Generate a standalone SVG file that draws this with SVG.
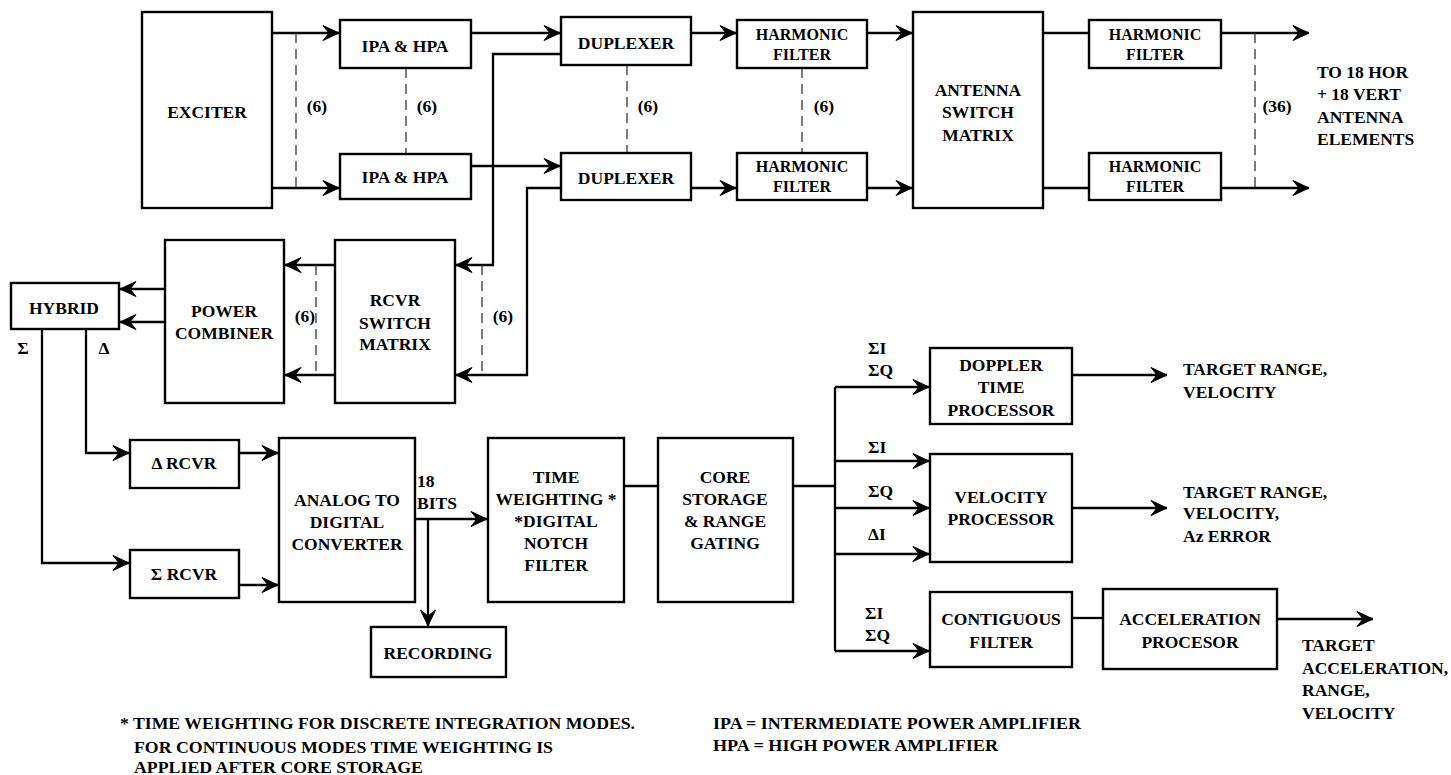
<svg xmlns="http://www.w3.org/2000/svg" width="1451" height="775" viewBox="0 0 1451 775">
<style>
  .box { fill: #fff; stroke: #000; stroke-width: 2.4; }
  .ln { fill: none; stroke: #000; stroke-width: 2.3; }
  .arr { marker-end: url(#ah); }
  .dash { fill: none; stroke: #444; stroke-width: 1.4; stroke-dasharray: 10 6; }
  text { font-family: "Liberation Serif", "Times New Roman", serif; font-weight: bold; font-size: 17.5px; fill: #000; }
  .c { text-anchor: middle; }
  .sm { font-size: 16px; }
  .note { font-size: 17.5px; }
</style>
<defs>
  <marker id="ah" viewBox="-18 -9 20 18" refX="0" refY="0" markerWidth="20" markerHeight="18" markerUnits="userSpaceOnUse" orient="auto">
    <path d="M0,0 L-16,-7.5 L-10,0 L-16,7.5 Z" fill="#000" stroke="#000" stroke-width="1" stroke-linejoin="miter"/>
  </marker>
</defs>
<rect width="1451" height="775" fill="#fff"/>

<g id="connectors">
  <path class="ln arr" d="M272,33 H339"/>
  <path class="ln arr" d="M272,188 H339"/>
  <path class="dash" d="M296,33 V188"/>
  <path class="dash" d="M406,68 V154"/>
  <path class="ln arr" d="M471,33 H560"/>
  <path class="ln arr" d="M471,166 H560"/>
  <path class="ln arr" d="M561,54 H493 V265 H456"/>
  <path class="ln arr" d="M561,188 H527 V375 H456"/>
  <path class="dash" d="M482,265 V375"/>
  <path class="dash" d="M627,65 V153"/>
  <path class="ln arr" d="M691,33 H736"/>
  <path class="ln arr" d="M691,188 H736"/>
  <path class="dash" d="M802,68 V153"/>
  <path class="ln arr" d="M867,33 H912"/>
  <path class="ln arr" d="M867,188 H912"/>
  <path class="ln" d="M1043,33 H1089"/>
  <path class="ln" d="M1043,188 H1089"/>
  <path class="ln arr" d="M1221,33 H1309"/>
  <path class="ln arr" d="M1221,188 H1309"/>
  <path class="dash" d="M1255,33 V188"/>
  <path class="ln arr" d="M335,265 H285"/>
  <path class="ln arr" d="M335,375 H285"/>
  <path class="dash" d="M316,265 V375"/>
  <path class="ln arr" d="M165,289 H120"/>
  <path class="ln arr" d="M165,322 H120"/>
  <path class="ln arr" d="M42,329 V563 H129"/>
  <path class="ln arr" d="M86,329 V453 H129"/>
  <path class="ln arr" d="M239,453 H278"/>
  <path class="ln arr" d="M239,585 H278"/>
  <path class="ln arr" d="M415,519 H487"/>
  <path class="ln arr" d="M428,519 V626"/>
  <path class="ln" d="M624,486 H658"/>
  <path class="ln" d="M793,486 H835"/>
  <path class="ln" d="M835,387 V651"/>
  <path class="ln arr" d="M835,387 H929"/>
  <path class="ln arr" d="M835,461 H929"/>
  <path class="ln arr" d="M835,508 H929"/>
  <path class="ln arr" d="M835,554 H929"/>
  <path class="ln arr" d="M835,651 H929"/>
  <path class="ln arr" d="M1072,375 H1167"/>
  <path class="ln arr" d="M1072,508 H1167"/>
  <path class="ln" d="M1072,618 H1103"/>
  <path class="ln arr" d="M1277,619 H1373"/>
</g>

<g id="labels">
  <text x="317" y="112" class="c">(6)</text>
  <text x="427" y="112" class="c">(6)</text>
  <text x="648" y="112" class="c">(6)</text>
  <text x="824" y="112" class="c">(6)</text>
  <text x="1277" y="112" class="c">(36)</text>
  <text x="1317" y="78">TO 18 HOR</text>
  <text x="1317" y="100">+ 18 VERT</text>
  <text x="1317" y="123">ANTENNA</text>
  <text x="1317" y="145">ELEMENTS</text>
  <text x="305" y="322" class="c">(6)</text>
  <text x="503" y="322" class="c">(6)</text>
  <text x="23" y="354" class="c">Σ</text>
  <text x="104" y="354" class="c">Δ</text>
  <text x="417" y="487">18</text>
  <text x="417" y="509">BITS</text>
  <text x="868" y="354">ΣI</text>
  <text x="868" y="376">ΣQ</text>
  <text x="868" y="453">ΣI</text>
  <text x="868" y="497">ΣQ</text>
  <text x="868" y="540">ΔI</text>
  <text x="865" y="619">ΣI</text>
  <text x="865" y="641">ΣQ</text>
  <text x="1183" y="375">TARGET RANGE,</text>
  <text x="1183" y="398">VELOCITY</text>
  <text x="1183" y="498">TARGET RANGE,</text>
  <text x="1183" y="519">VELOCITY,</text>
  <text x="1183" y="542">Az ERROR</text>
  <text x="1302" y="651">TARGET</text>
  <text x="1302" y="674">ACCELERATION,</text>
  <text x="1302" y="696">RANGE,</text>
  <text x="1302" y="719">VELOCITY</text>
  <text x="120" y="729" class="note" textLength="515" lengthAdjust="spacingAndGlyphs">* TIME WEIGHTING FOR DISCRETE INTEGRATION MODES.</text>
  <text x="134" y="753" class="note" textLength="419" lengthAdjust="spacingAndGlyphs">FOR CONTINUOUS MODES TIME WEIGHTING IS</text>
  <text x="134" y="773" class="note" textLength="289" lengthAdjust="spacingAndGlyphs">APPLIED AFTER CORE STORAGE</text>
  <text x="713" y="729" class="note" textLength="368" lengthAdjust="spacingAndGlyphs">IPA = INTERMEDIATE POWER AMPLIFIER</text>
  <text x="713" y="751" class="note" textLength="285" lengthAdjust="spacingAndGlyphs">HPA = HIGH POWER AMPLIFIER</text>
</g>

<g id="exciter"><rect class="box" x="142" y="12" width="130" height="196"/><text x="207" y="118" class="c">EXCITER</text></g>
<g id="ipa1"><rect class="box" x="340" y="20" width="131" height="48"/><text x="405" y="52" class="c">IPA &amp; HPA</text></g>
<g id="ipa2"><rect class="box" x="340" y="154" width="131" height="45"/><text x="405" y="183" class="c">IPA &amp; HPA</text></g>
<g id="dup1"><rect class="box" x="561" y="17" width="130" height="48"/><text x="626" y="49" class="c">DUPLEXER</text></g>
<g id="dup2"><rect class="box" x="561" y="153" width="130" height="47"/><text x="626" y="184" class="c">DUPLEXER</text></g>
<g id="hf1"><rect class="box" x="737" y="20" width="130" height="48"/><text x="802" y="40" class="c sm">HARMONIC</text><text x="802" y="60" class="c sm">FILTER</text></g>
<g id="hf2"><rect class="box" x="737" y="153" width="130" height="47"/><text x="802" y="172" class="c sm">HARMONIC</text><text x="802" y="192" class="c sm">FILTER</text></g>
<g id="antenna"><rect class="box" x="913" y="12" width="130" height="196"/><text x="978" y="96" class="c">ANTENNA</text><text x="978" y="118" class="c">SWITCH</text><text x="978" y="141" class="c">MATRIX</text></g>
<g id="hf3"><rect class="box" x="1089" y="20" width="132" height="48"/><text x="1155" y="40" class="c sm">HARMONIC</text><text x="1155" y="60" class="c sm">FILTER</text></g>
<g id="hf4"><rect class="box" x="1089" y="153" width="132" height="47"/><text x="1155" y="172" class="c sm">HARMONIC</text><text x="1155" y="192" class="c sm">FILTER</text></g>
<g id="hybrid"><rect class="box" x="11" y="283" width="108" height="46"/><text x="64" y="314" class="c">HYBRID</text></g>
<g id="combiner"><rect class="box" x="165" y="240" width="119" height="163"/><text x="224" y="317" class="c">POWER</text><text x="224" y="339" class="c">COMBINER</text></g>
<g id="rcvrswitch"><rect class="box" x="335" y="240" width="120" height="163"/><text x="395" y="306" class="c">RCVR</text><text x="395" y="329" class="c">SWITCH</text><text x="395" y="350" class="c">MATRIX</text></g>
<g id="drcvr"><rect class="box" x="130" y="440" width="109" height="48"/><text x="184" y="469" class="c">Δ RCVR</text></g>
<g id="srcvr"><rect class="box" x="130" y="550" width="109" height="48"/><text x="184" y="580" class="c">Σ RCVR</text></g>
<g id="adc"><rect class="box" x="279" y="438" width="136" height="164"/><text x="347" y="506" class="c">ANALOG TO</text><text x="347" y="528" class="c">DIGITAL</text><text x="347" y="550" class="c">CONVERTER</text></g>
<g id="recording"><rect class="box" x="371" y="627" width="135" height="50"/><text x="438" y="659" class="c">RECORDING</text></g>
<g id="timeweight"><rect class="box" x="488" y="438" width="136" height="164"/><text x="556" y="483" class="c">TIME</text><text x="556" y="505" class="c">WEIGHTING *</text><text x="556" y="527" class="c">*DIGITAL</text><text x="556" y="549" class="c">NOTCH</text><text x="556" y="571" class="c">FILTER</text></g>
<g id="core"><rect class="box" x="658" y="438" width="135" height="164"/><text x="725" y="483" class="c">CORE</text><text x="725" y="505" class="c">STORAGE</text><text x="725" y="527" class="c">&amp; RANGE</text><text x="725" y="549" class="c">GATING</text></g>
<g id="doppler"><rect class="box" x="930" y="348" width="142" height="76"/><text x="1001" y="371" class="c">DOPPLER</text><text x="1001" y="393" class="c">TIME</text><text x="1001" y="416" class="c">PROCESSOR</text></g>
<g id="velocity"><rect class="box" x="930" y="454" width="142" height="108"/><text x="1001" y="503" class="c">VELOCITY</text><text x="1001" y="525" class="c">PROCESSOR</text></g>
<g id="contiguous"><rect class="box" x="930" y="592" width="142" height="75"/><text x="1001" y="625" class="c">CONTIGUOUS</text><text x="1001" y="648" class="c">FILTER</text></g>
<g id="accel"><rect class="box" x="1103" y="589" width="174" height="80"/><text x="1190" y="625" class="c">ACCELERATION</text><text x="1190" y="648" class="c">PROCESOR</text></g>
</svg>
